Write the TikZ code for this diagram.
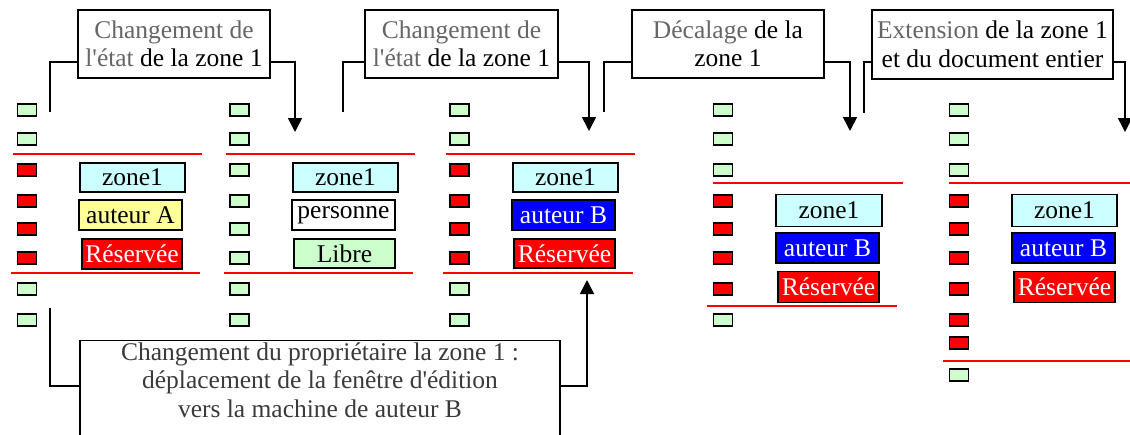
\documentclass[tikz,border=0pt]{standalone}
\usepackage{fontspec}
\setmainfont{Liberation Serif}[Ligatures=TeXOff]
\usetikzlibrary{arrows.meta}
\definecolor{sqgreen}{HTML}{CCFFCC}
\definecolor{zcyan}{HTML}{CCFFFF}
\definecolor{ayellow}{HTML}{FFFF99}
\definecolor{tgray}{HTML}{666666}
\definecolor{bgray}{HTML}{3A3A3A}
\begin{document}
\begin{tikzpicture}[x=1pt,y=-1pt,
  font=\fontsize{25.5}{28.5}\selectfont,
  sq/.style={draw=black, line width=1.8pt, minimum width=19pt, minimum height=12.5pt, inner sep=0pt},
  lbl/.style={draw=black, line width=1.6pt, inner sep=0pt, minimum height=29.5pt},
  redline/.style={draw=red, line width=1.5pt},
  conn/.style={line width=1.6pt},
  arr/.style={conn, -{Triangle[width=14pt,length=14pt]}},
  callout/.style={draw=black, line width=1.4pt, align=center, inner sep=0pt}]
\useasboundingbox (0,0) rectangle (1130,434);

% ---- squares ----
\foreach \y/\c [count=\i] in {110/sqgreen,139/sqgreen,170/red,201/red,229/red,258/red,289/sqgreen,320/sqgreen}
  \node[sq, fill=\c] (sA\i) at (27,\y) {};
\foreach \y/\c [count=\i] in {110/sqgreen,139/sqgreen,170/sqgreen,201/sqgreen,229/sqgreen,258/sqgreen,289/sqgreen,320/sqgreen}
  \node[sq, fill=\c] (sB\i) at (239.5,\y) {};
\foreach \y/\c [count=\i] in {110/sqgreen,139/sqgreen,170/red,201/red,229/red,258/red,289/sqgreen,320/sqgreen}
  \node[sq, fill=\c] (sC\i) at (459.5,\y) {};
\foreach \y/\c [count=\i] in {110/sqgreen,139/sqgreen,170/sqgreen,201/red,229/red,258/red,289/red,320/sqgreen}
  \node[sq, fill=\c] (sD\i) at (723,\y) {};
\foreach \y/\c [count=\i] in {110/sqgreen,139/sqgreen,170/sqgreen,201/red,229/red,258/red,289/red,320/red,343/red,375/sqgreen}
  \node[sq, fill=\c] (sE\i) at (959,\y) {};

% ---- red zone lines ----
\draw[redline] (13,154) -- (202,154);
\draw[redline] (11,273) -- (200,273);
\draw[redline] (226,154) -- (415,154);
\draw[redline] (224,273) -- (413,273);
\draw[redline] (446,154) -- (635,154);
\draw[redline] (443,273) -- (633,273);
\draw[redline] (713,183) -- (903,183);
\draw[redline] (707,306) -- (897,306);
\draw[redline] (949,183) -- (1130,183);
\draw[redline] (943,361) -- (1130,361);

% ---- labels ----
\node[lbl, fill=zcyan, minimum width=105pt] (zA) at (132.5,177.5) {zone1};
\node[lbl, fill=ayellow, minimum width=103pt] (aA) at (130.5,215) {auteur A};
\node[lbl, fill=red, text=white, minimum width=100pt] (rA) at (132,254) {Réservée};

\node[lbl, fill=zcyan, minimum width=105pt] (zB) at (345.5,177.5) {zone1};
\node[lbl, fill=white, minimum width=103pt] (aB) at (343.5,215) {personne};
\node[lbl, fill=sqgreen, minimum width=101pt] (rB) at (344.5,253.5) {Libre};

\node[lbl, fill=zcyan, minimum width=105pt] (zC) at (565.5,177.5) {zone1};
\node[lbl, fill=blue, text=white, minimum width=103pt] (aC) at (563.5,215) {auteur B};
\node[lbl, fill=red, text=white, minimum width=101pt] (rC) at (564.5,253.5) {Réservée};

\node[lbl, fill=zcyan, minimum width=106pt, minimum height=32pt] (zD) at (829,210.5) {zone1};
\node[lbl, fill=blue, text=white, minimum width=103pt] (aD) at (827.5,248) {auteur B};
\node[lbl, fill=red, text=white, minimum width=101pt, minimum height=31pt] (rD) at (828.5,287) {Réservée};

\node[lbl, fill=zcyan, minimum width=105pt, minimum height=32pt] (zE) at (1064.5,210.5) {zone1};
\node[lbl, fill=blue, text=white, minimum width=103pt] (aE) at (1063.5,248) {auteur B};
\node[lbl, fill=red, text=white, minimum width=101pt, minimum height=31pt] (rE) at (1064.5,287) {Réservée};

% ---- callouts ----
\node[callout, minimum width=192pt, minimum height=68pt] (b1) at (174,44)
  {{\color{tgray}Changement de}\\{\color{tgray}l'état} de la zone 1};
\node[callout, minimum width=193pt, minimum height=68pt] (b2) at (461.5,44)
  {{\color{tgray}Changement de}\\{\color{tgray}l'état} de la zone 1};
\node[callout, minimum width=192pt, minimum height=68pt] (b3) at (728,44)
  {{\color{tgray}Décalage} de la\\zone 1};
\node[callout, minimum width=241pt, minimum height=69pt] (b4) at (992.5,44.5)
  {{\color{tgray}Extension} de la zone 1\\et du document entier};

\coordinate (e1l) at (50,112);
\coordinate (e1r) at (295,132);
\coordinate (e2l) at (343,112);
\coordinate (e2r) at (589,131);
\coordinate (e3l) at (604,112);
\coordinate (e3r) at (850,131);
\coordinate (e4l) at (864,113);
\coordinate (e4r) at (1125,132);

\draw[conn] ([yshift=-18pt]b1.west) -| (e1l);
\draw[arr]  ([yshift=-18pt]b1.east) -| (e1r);
\draw[conn] ([yshift=-18pt]b2.west) -| (e2l);
\draw[arr]  ([yshift=-18pt]b2.east) -| (e2r);
\draw[conn] ([yshift=-18pt]b3.west) -| (e3l);
\draw[arr]  ([yshift=-18pt]b3.east) -| (e3r);
\draw[conn] ([yshift=-17.5pt]b4.west) -| (e4l);
\draw[arr]  ([yshift=-17.5pt]b4.east) -| (e4r);

% ---- bottom callout ----
\node[draw=black, line width=1.4pt, minimum width=480pt, minimum height=100pt, inner sep=0pt, anchor=north] (bot) at (320,340) {};
\node[align=center, inner sep=0pt, anchor=north, text=bgray] (bottxt) at (320,342.5)
  {Changement du propriétaire la zone 1 :\\déplacement de la fenêtre d'édition\\vers la machine de auteur B};
\coordinate (e6l) at (50,308);
\coordinate (e6r) at (587,280);
\draw[conn] ([yshift=5pt]bot.west) -| (e6l);
\draw[arr]  ([yshift=5pt]bot.east) -| (e6r);
\end{tikzpicture}
\end{document}
